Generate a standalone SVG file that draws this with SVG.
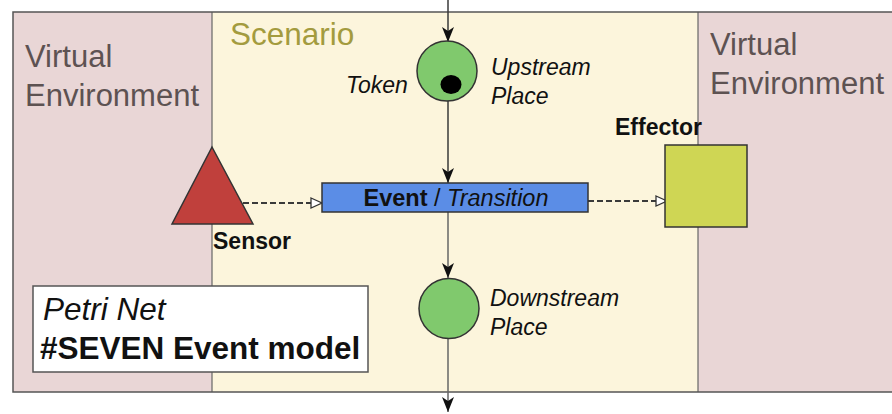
<svg xmlns="http://www.w3.org/2000/svg" width="892" height="414" viewBox="0 0 892 414">
<style>
  .env { fill: #e9d6d6; }
  .scen { fill: #fcf5dc; }
  .border { fill: none; stroke: #555; stroke-width: 1.5; }
  .divider { stroke: #666; stroke-width: 1.2; }
  .envtxt { font-family: "Liberation Sans", Arial, sans-serif; font-size: 31px; fill: #5d5252; }
  .scentxt { font-family: "Liberation Sans", Arial, sans-serif; font-size: 31.5px; fill: #a39b3e; }
  .lbl { font-family: "Liberation Sans", Arial, sans-serif; font-size: 23px; font-style: italic; fill: #111; }
  .blbl { font-family: "Liberation Sans", Arial, sans-serif; font-size: 23px; font-weight: bold; fill: #111; }
  .place { fill: #80c96d; stroke: #333; stroke-width: 1.5; }
  .arc { stroke: #3a3a3a; stroke-width: 1.5; fill: none; }
  .dash { stroke: #3a3a3a; stroke-width: 1.8; fill: none; stroke-dasharray: 6 3; }
</style>
<defs>
  <marker id="ah" viewBox="0 0 16 22" refX="15" refY="11" markerWidth="16" markerHeight="22" markerUnits="userSpaceOnUse" orient="auto">
    <path d="M0,5 L15,11 L0,17 L4,11 Z" fill="#111"/>
  </marker>
  <marker id="oh" viewBox="0 0 14 14" refX="12" refY="7" markerWidth="14" markerHeight="14" markerUnits="userSpaceOnUse" orient="auto">
    <path d="M1,2 L12,7 L1,12 Z" fill="#fff" stroke="#333" stroke-width="1.3"/>
  </marker>
</defs>

<g id="background">
  <rect class="env" x="13" y="12" width="199" height="380"/>
  <rect class="scen" x="212" y="12" width="486" height="380"/>
  <rect class="env" x="698" y="12" width="194" height="380"/>
  <line class="divider" x1="212" y1="12" x2="212" y2="392"/>
  <line class="divider" x1="698" y1="12" x2="698" y2="392"/>
  <path class="border" d="M892,12 H13 V392 H892"/>
  <text class="envtxt" x="25" y="67">Virtual</text>
  <text class="envtxt" x="25" y="106">Environment</text>
  <text class="envtxt" x="710" y="55">Virtual</text>
  <text class="envtxt" x="710" y="94">Environment</text>
  <text class="scentxt" x="230" y="45">Scenario</text>
</g>

<g id="connectors">
  <line class="arc" x1="448" y1="0" x2="448" y2="42" marker-end="url(#ah)"/>
  <line class="arc" x1="448" y1="101" x2="448" y2="183" marker-end="url(#ah)"/>
  <line class="arc" x1="448" y1="212" x2="448" y2="278" marker-end="url(#ah)" style="stroke:#666"/>
  <line class="arc" x1="448" y1="339" x2="448" y2="412" marker-end="url(#ah)" style="stroke:#666"/>
  <line class="dash" x1="243" y1="203" x2="322" y2="203" marker-end="url(#oh)"/>
  <line class="dash" x1="588" y1="201" x2="667" y2="201" marker-end="url(#oh)"/>
</g>

<g id="upstream-place">
  <circle class="place" cx="447" cy="71" r="30"/>
  <ellipse cx="451" cy="84.5" rx="10.5" ry="9.5" fill="#000"/>
  <text class="lbl" x="346" y="93">Token</text>
  <text class="lbl" x="491" y="75">Upstream</text>
  <text class="lbl" x="491" y="104">Place</text>
</g>

<g id="event">
  <rect x="322" y="183" width="266" height="29" fill="#5b8de6" stroke="#333" stroke-width="1.5"/>
  <text x="456" y="206" text-anchor="middle" font-family="Liberation Sans, Arial, sans-serif" font-size="23.5" fill="#111"><tspan font-weight="bold">Event</tspan> / <tspan font-style="italic">Transition</tspan></text>
</g>

<g id="sensor">
  <polygon points="212,147 172,224 253,224" fill="#c0403c" stroke="#333" stroke-width="1.5"/>
  <text class="blbl" x="213" y="249">Sensor</text>
</g>

<g id="effector">
  <rect x="665" y="145" width="82" height="82" fill="#cfd654" stroke="#333" stroke-width="1.5"/>
  <text class="blbl" x="615" y="135">Effector</text>
</g>

<g id="downstream-place">
  <circle class="place" cx="449" cy="308.5" r="30"/>
  <text class="lbl" x="490" y="306">Downstream</text>
  <text class="lbl" x="490" y="335">Place</text>
</g>

<g id="legend">
  <rect x="33" y="286" width="335" height="86" fill="#fff" stroke="#555" stroke-width="1.5"/>
  <text x="43" y="320" font-family="Liberation Sans, Arial, sans-serif" font-size="31.5" font-style="italic" fill="#111">Petri Net</text>
  <text x="40" y="359" font-family="Liberation Sans, Arial, sans-serif" font-size="31.5" font-weight="bold" fill="#111">#SEVEN Event model</text>
</g>
</svg>
